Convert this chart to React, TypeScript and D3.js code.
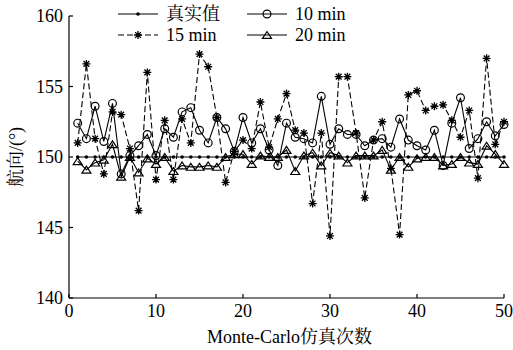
import React from "react";
import * as d3 from "d3";

const truth = [150,150,150,150,150,150,150,150,150,150,150,150,150,150,150,150,150,150,150,150,150,150,150,150,150,150,150,150,150,150,150,150,150,150,150,150,150,150,150,150,150,150,150,150,150,150,150,150,150,150];
const min10 = [152.4,151.3,153.6,151.1,153.8,148.8,150.1,150.8,151.6,150.1,152.0,151.4,153.2,153.5,151.9,151.0,152.8,152.0,150.4,152.8,151.0,152.0,150.5,149.4,152.4,151.4,151.3,151.0,154.3,150.9,152.0,151.6,151.6,150.8,151.2,151.3,150.7,152.7,151.2,150.8,150.5,151.9,149.4,152.4,154.2,150.6,151.3,152.5,151.5,152.3];
const min15 = [151.0,156.6,151.3,148.8,153.2,153.0,150.6,146.2,156.0,148.4,152.6,148.4,152.7,151.0,157.3,156.4,152.8,148.2,150.4,151.2,150.6,153.9,150.7,152.7,154.5,151.9,151.7,146.7,151.7,144.4,155.7,155.7,151.7,147.1,151.2,152.5,149.2,144.5,154.4,154.7,153.3,153.6,153.7,152.6,151.4,153.3,148.5,157.0,150.9,152.5];
const min20 = [149.7,149.1,149.6,149.8,150.9,148.6,150.0,148.9,149.9,149.5,150.0,149.0,149.4,149.3,149.3,149.4,149.3,150.0,150.2,150.2,149.5,150.1,150.0,150.0,150.5,149.0,150.1,150.3,149.4,150.3,150.1,149.6,150.1,150.1,150.1,150.5,149.1,150.0,149.3,149.9,150.0,150.0,149.4,149.5,150.0,149.6,149.5,150.8,150.2,149.5];
const runs = min10.map((_, i) => i + 1);
const xTicks = [0, 10, 20, 30, 40, 50];
const yTicks = [140, 145, 150, 155, 160];
const legendLabels = ["真实值", "10 min", "15 min", "20 min"];
const xTitle = "Monte-Carlo仿真次数";
const yTitle = "航向/(°)";

const FONT = "'Liberation Serif', 'Times New Roman', 'Noto Serif CJK SC', 'Noto Sans CJK SC', serif";
const W = 513, H = 350;
const L = 69, R = 504, T = 16, B = 298;

const x = d3.scaleLinear().domain([0, 50]).range([L, R]);
const y = d3.scaleLinear().domain([140, 160]).range([B, T]);

const starPath = (s: number) => {
  const d = s, e = s * 0.72;
  return `M${-d},0L${d},0M0,${-d}L0,${d}M${-e},${-e}L${e},${e}M${-e},${e}L${e},${-e}`;
};
const triPath = (s: number) => `M0,${-s}L${s * 1.05},${s * 0.6}L${-s * 1.05},${s * 0.6}Z`;

type Kind = "dot" | "circle" | "star" | "tri";
const Marker = ({ kind, cx, cy }: { kind: Kind; cx: number; cy: number }) => {
  if (kind === "dot") return <circle cx={cx} cy={cy} r={1.8} fill="#000" />;
  if (kind === "circle") return <circle cx={cx} cy={cy} r={3.9} fill="none" stroke="#000" strokeWidth={1.2} />;
  if (kind === "star") return <path d={starPath(4)} transform={`translate(${cx},${cy})`} fill="none" stroke="#000" strokeWidth={1.3} />;
  return <path d={triPath(4.3)} transform={`translate(${cx},${cy + 0.8})`} fill="none" stroke="#000" strokeWidth={1.2} />;
};

const line = d3.line<number>().x((_, i) => x(runs[i])).y((v) => y(v));

const series: { data: number[]; kind: Kind; dash?: string; label: string }[] = [
  { data: truth, kind: "dot", label: legendLabels[0] },
  { data: min20, kind: "tri", label: legendLabels[3] },
  { data: min10, kind: "circle", label: legendLabels[1] },
  { data: min15, kind: "star", dash: "6,3", label: legendLabels[2] },
];

const legendPos = [
  { kind: "dot" as Kind, label: legendLabels[0], lx: 118, ty: 14 },
  { kind: "circle" as Kind, label: legendLabels[1], lx: 247, ty: 14 },
  { kind: "star" as Kind, label: legendLabels[2], lx: 118, ty: 35, dash: "6,3" },
  { kind: "tri" as Kind, label: legendLabels[3], lx: 247, ty: 35 },
];

export default function App() {
  return (
    <svg width={W} height={H} style={{ position: "absolute", left: 0, top: 0, background: "#fff" }} fontFamily={FONT}>
      <rect x={0} y={0} width={W} height={H} fill="#fff" />
      {series.map((s, k) => (
        <g key={k}>
          <path d={line(s.data) || ""} fill="none" stroke="#000" strokeWidth={1.1} strokeDasharray={s.dash} />
          {s.data.map((v, i) => (
            <Marker key={i} kind={s.kind} cx={x(runs[i])} cy={y(v)} />
          ))}
        </g>
      ))}
      {/* axes */}
      <line x1={L} x2={R} y1={B} y2={B} stroke="#000" strokeWidth={1.2} />
      <line x1={L} x2={L} y1={B} y2={T} stroke="#000" strokeWidth={1.2} />
      {xTicks.map((t) => (
        <g key={t}>
          <line x1={x(t)} x2={x(t)} y1={B} y2={B - 4} stroke="#000" strokeWidth={1.2} />
          <text x={x(t)} y={B + 19} fontSize={18} textAnchor="middle">{t}</text>
        </g>
      ))}
      {yTicks.map((t) => (
        <g key={t}>
          <line x1={L} x2={L + 4} y1={y(t)} y2={y(t)} stroke="#000" strokeWidth={1.2} />
          <text x={L - 6} y={y(t) + 6} fontSize={18} textAnchor="end">{t}</text>
        </g>
      ))}
      <text x={(L + R) / 2 + 3} y={343} fontSize={18} textAnchor="middle">{xTitle}</text>
      <text transform={`translate(22,${(T + B) / 2}) rotate(-90)`} fontSize={18} textAnchor="middle">{yTitle}</text>
      {/* legend */}
      {legendPos.map((p, k) => (
        <g key={k}>
          <line x1={p.lx} x2={p.lx + 40} y1={p.ty} y2={p.ty} stroke="#000" strokeWidth={1.1} strokeDasharray={p.dash} />
          <Marker kind={p.kind} cx={p.lx + 20} cy={p.ty} />
          <text x={p.lx + 48} y={p.ty + 6} fontSize={18}>{p.label}</text>
        </g>
      ))}
    </svg>
  );
}
